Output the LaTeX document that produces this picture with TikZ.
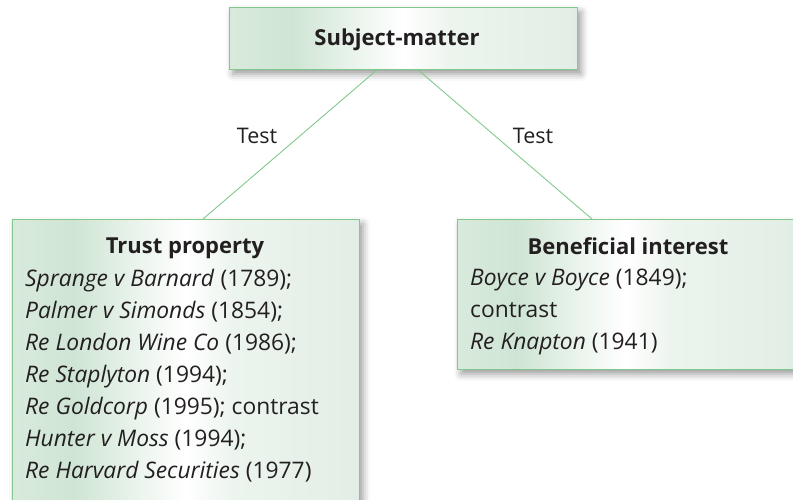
\documentclass[tikz,border=0pt]{standalone}
\usepackage{fontspec}
\setmainfont{Open Sans}
\usetikzlibrary{shadows.blur,calc}
\definecolor{txt}{RGB}{35,31,32}
\definecolor{edge}{RGB}{128,200,140}
\definecolor{gA}{RGB}{216,234,220}
\definecolor{gB}{RGB}{207,229,212}
\definecolor{gC}{RGB}{236,244,238}
\definecolor{gD}{RGB}{226,238,229}
\pgfdeclarehorizontalshading{boxshade}{100bp}{color(0bp)=(gA); color(25bp)=(gA); color(34bp)=(gB); color(50bp)=(white); color(57bp)=(gC); color(75bp)=(gD); color(100bp)=(gD)}
\tikzset{
  box/.style={draw=edge, line width=1pt, shading=boxshade, inner sep=0pt, outer sep=0pt,
    blur shadow={shadow xshift=4pt, shadow yshift=-5pt, shadow blur radius=7pt, shadow opacity=40}},
  conn/.style={draw=edge, line width=0.9pt},
  lbl/.style={font=\fontsize{21.5}{24}\selectfont, text=txt, inner sep=0pt, anchor=base},
  head/.style={font=\bfseries\fontsize{22}{24}\selectfont, text=txt, inner sep=0pt, anchor=base},
  body/.style={font=\fontsize{22.8}{32}\selectfont, text=txt, inner sep=0pt, anchor=base west, align=left}
}
\begin{document}
\begin{tikzpicture}[x=1pt,y=-1pt]
\useasboundingbox (0,0) rectangle (793,499);
\clip (0,0) rectangle (793,499);
\node[box, minimum width=348pt, minimum height=62pt] (top) at (403,38) {};
\node[head] (toptxt) at (397,45) {Subject-matter};
\node[box, minimum width=347pt, minimum height=300pt, anchor=north west] (left) at (12,219) {};
\node[box, minimum width=336pt, minimum height=150pt, anchor=north west] (right) at (457,219) {};
\draw[conn] ([xshift=-25pt]top.south) -- ([xshift=17.5pt]left.north);
\draw[conn] ([xshift=14pt]top.south) -- ([xshift=-33pt]right.north);
\node[lbl] (t1) at (257,143) {Test};
\node[lbl] (t2) at (533,143) {Test};
\node[head] (lt) at (185,253) {Trust property};
\node[body] (lb) at (25,478) {\textit{Sprange v Barnard} (1789);\\
\textit{Palmer v Simonds} (1854);\\
\textit{Re London Wine Co} (1986);\\
\textit{Re Staplyton} (1994);\\
\textit{Re Goldcorp} (1995); contrast\\
\textit{Hunter v Moss} (1994);\\
\textit{Re Harvard Securities} (1977)};
\node[head] (rt) at (628,254) {Beneficial interest};
\node[body] (rb) at (470,349) {\textit{Boyce v Boyce} (1849);\\
contrast\\
\textit{Re Knapton} (1941)};
\end{tikzpicture}
\end{document}
